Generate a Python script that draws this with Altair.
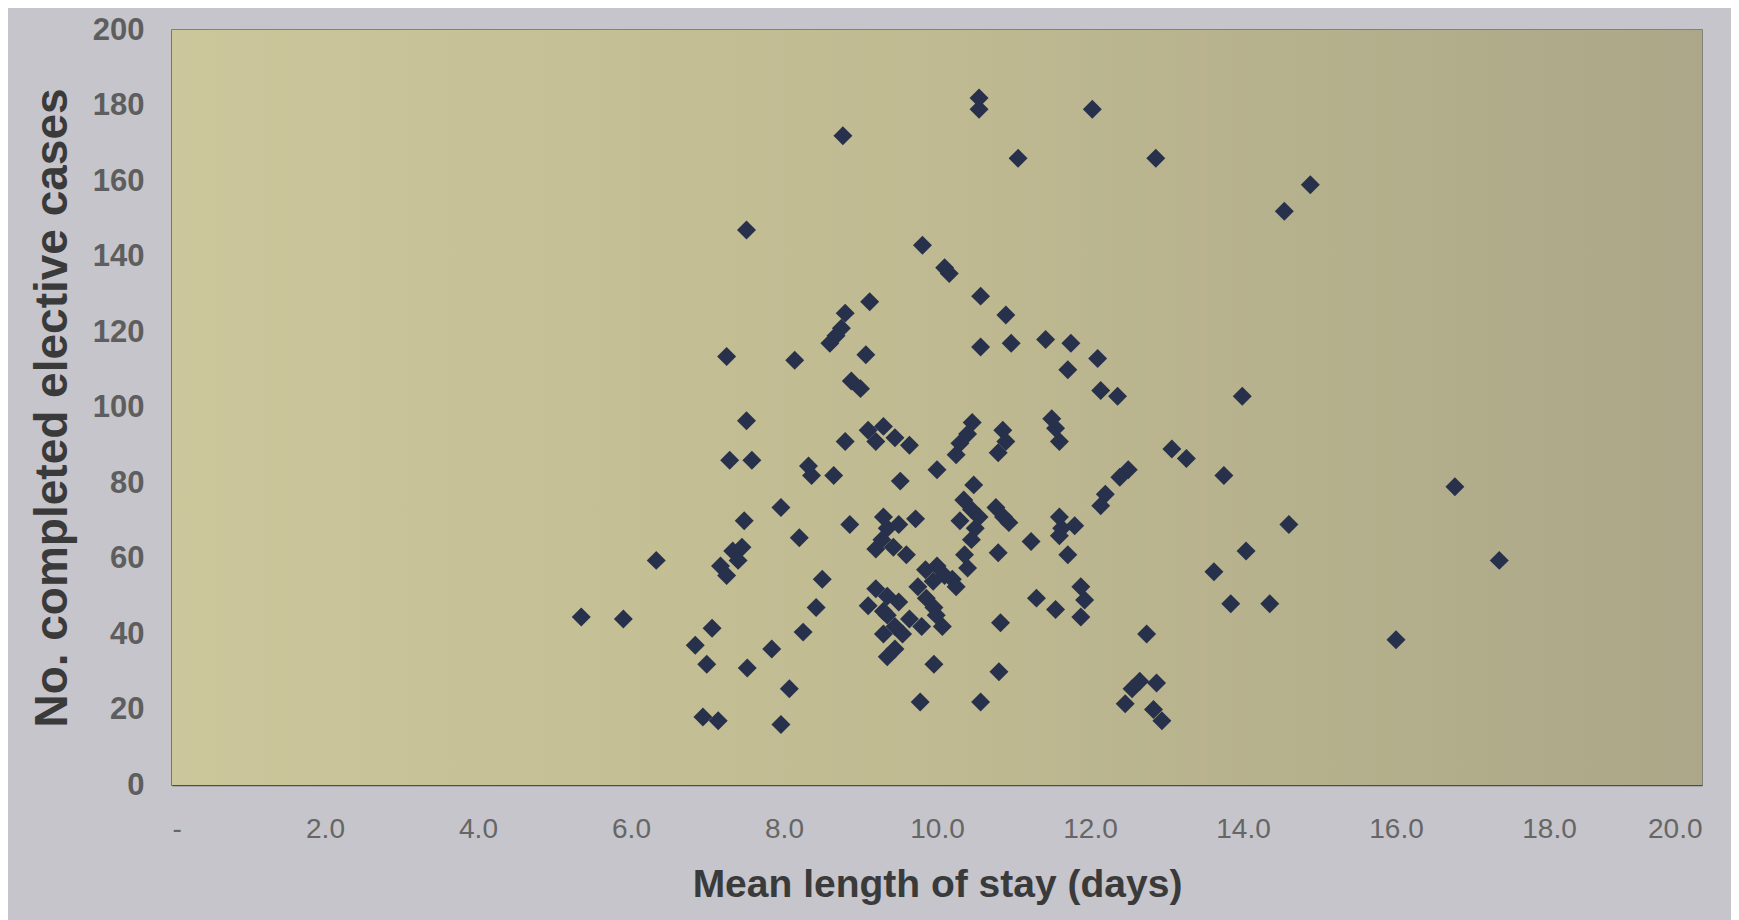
import altair as alt
import pandas as pd

# Mean length of stay (days)
los = [
    10.55, 10.55, 12.03, 8.77, 11.06, 12.86, 14.88, 14.54, 7.51, 9.81,
    10.10, 10.16, 10.57, 10.90, 9.12, 8.80, 8.75, 8.68, 8.60, 9.07,
    8.14, 7.25, 11.42, 11.75, 10.97, 10.57, 12.10, 11.71, 8.88, 9.00,
    12.14, 12.36, 13.99, 7.51, 9.10, 9.30, 9.45, 9.20, 9.64, 10.46,
    10.40, 10.30, 10.25, 10.86, 10.90, 10.80, 11.50, 11.55, 11.60, 7.29,
    7.58, 13.07, 13.26, 8.32, 8.36, 8.65, 8.80, 9.52, 10.00, 10.48,
    12.50, 12.39, 13.75, 16.77, 12.20, 12.14, 7.96, 7.48, 8.86, 9.30,
    9.35, 9.50, 9.72, 10.35, 10.45, 10.55, 10.30, 10.50, 10.45, 10.77,
    10.87, 10.94, 11.60, 11.63, 11.80, 14.60, 8.20, 10.80, 11.23, 11.60,
    11.71, 7.33, 7.45, 7.40, 6.33, 7.17, 7.25, 9.20, 9.28, 9.43,
    9.60, 10.00, 10.10, 10.20, 9.95, 9.85, 10.36, 10.40, 10.25, 13.62,
    14.04, 17.35, 8.50, 9.20, 9.35, 9.50, 9.10, 9.30, 9.75, 9.86,
    9.96, 11.30, 11.55, 11.88, 11.93, 11.88, 13.84, 14.35, 5.35, 5.90,
    8.42, 8.25, 7.84, 7.06, 6.84, 6.99, 7.52, 9.35, 9.45, 9.30,
    9.55, 9.45, 9.35, 9.64, 9.80, 9.99, 10.07, 10.83, 9.96, 12.74,
    16.00, 8.07, 10.81, 9.78, 10.57, 12.55, 12.65, 12.46, 12.87, 12.83,
    12.94, 6.94, 7.14, 7.96,
]

# No. completed elective cases
cases = [
    182, 179, 179, 172, 166, 166, 159, 152, 147, 143,
    137, 135.5, 129.5, 124.5, 128, 125, 121, 119, 117, 114,
    112.5, 113.5, 118, 117, 117, 116, 113, 110, 107, 105,
    104.5, 103, 103, 96.5, 94, 95, 92, 91, 90, 96,
    93, 90.5, 87.5, 94, 91, 88, 97, 94.5, 91, 86,
    86, 89, 86.5, 84.5, 82, 82, 91, 80.5, 83.5, 79.5,
    83.5, 81.5, 82, 79, 77, 74, 73.5, 70, 69, 71,
    68, 69, 70.5, 75.5, 73, 71, 70, 68, 65, 73.5,
    71, 69.5, 71, 68, 68.7, 69, 65.5, 61.5, 64.5, 66,
    61, 62, 63, 59.5, 59.5, 58, 55.5, 62.5, 65, 63,
    61, 58, 55.5, 54.5, 54, 57, 61, 57.5, 52.5, 56.5,
    62, 59.5, 54.5, 52, 50, 48.5, 47.5, 46, 52.5, 49.5,
    47, 49.5, 46.5, 52.5, 49, 44.5, 48, 48, 44.5, 44,
    47, 40.5, 36, 41.5, 37, 32, 31, 45, 42, 40,
    40, 36, 34, 44, 42, 45, 42, 43, 32, 40,
    38.5, 25.5, 30, 22, 22, 25.5, 27.5, 21.5, 27, 20,
    17, 18, 17, 16,
]

x_ticks = [0, 2, 4, 6, 8, 10, 12, 14, 16, 18, 20]
y_ticks = [0, 20, 40, 60, 80, 100, 120, 140, 160, 180, 200]

df = pd.DataFrame({"los": los, "cases": cases})

plot_fill = alt.LinearGradient(
    gradient="linear",
    x1=0, y1=0, x2=1, y2=0,
    stops=[
        alt.GradientStop(offset=0, color="#ccc69b"),
        alt.GradientStop(offset=0.5, color="#bfba91"),
        alt.GradientStop(offset=1, color="#aba788"),
    ],
)

x_scale = alt.Scale(domain=[0, 20], nice=False)
y_scale = alt.Scale(domain=[0, 200], nice=False)

x_axis = alt.Axis(
    values=x_ticks,
    title="Mean length of stay (days)",
    labelExpr="datum.value == 0 ? '-' : format(datum.value, '.1f')",
    grid=False,
    ticks=False,
    domainColor="#4d4d4d",
    domainWidth=1.5,
    labelPadding=30,
    labelFontSize=28,
    labelColor="#666666",
    labelFont="Liberation Sans",
    titleFontSize=39,
    titleFontWeight="bold",
    titleColor="#3a3a3a",
    titleFont="Liberation Sans",
    titlePadding=22,
)

y_axis = alt.Axis(
    values=y_ticks,
    title="No. completed elective cases",
    grid=False,
    ticks=False,
    domainColor="#4d4d4d",
    domainWidth=1.5,
    labelPadding=28,
    labelFontSize=31,
    labelFontWeight="bold",
    labelColor="#5e5e5e",
    labelFont="Liberation Sans",
    titleFontSize=46,
    titleFontWeight="bold",
    titleColor="#3a3a3a",
    titleFont="Liberation Sans",
    titlePadding=16,
)

background = alt.Chart(df).mark_rect(color=plot_fill).encode(
    x=alt.datum(0, scale=x_scale, axis=x_axis, type="quantitative"),
    x2=alt.datum(20),
    y=alt.datum(0, scale=y_scale, axis=y_axis, type="quantitative"),
    y2=alt.datum(200),
).transform_filter("datum.los == " + str(los[0]) + " && datum.cases == " + str(cases[0]))

points = (
    alt.Chart(df)
    .mark_point(shape="diamond", filled=True, size=360, color="#28314b", opacity=1)
    .encode(
        x=alt.X("los:Q", scale=x_scale, axis=x_axis),
        y=alt.Y("cases:Q", scale=y_scale, axis=y_axis),
    )
)

chart = (
    alt.layer(background, points)
    .properties(
        width=1530,
        height=755,
        autosize=alt.AutoSizeParams(type="none"),
        padding={"left": 164, "top": 22, "right": 29, "bottom": 135},
        background="#c5c5cb",
    )
    .configure_view(stroke="#6e6c5e", strokeWidth=1.5)
)

chart.save("out.html", embed_options={"renderer": "svg", "actions": False})
